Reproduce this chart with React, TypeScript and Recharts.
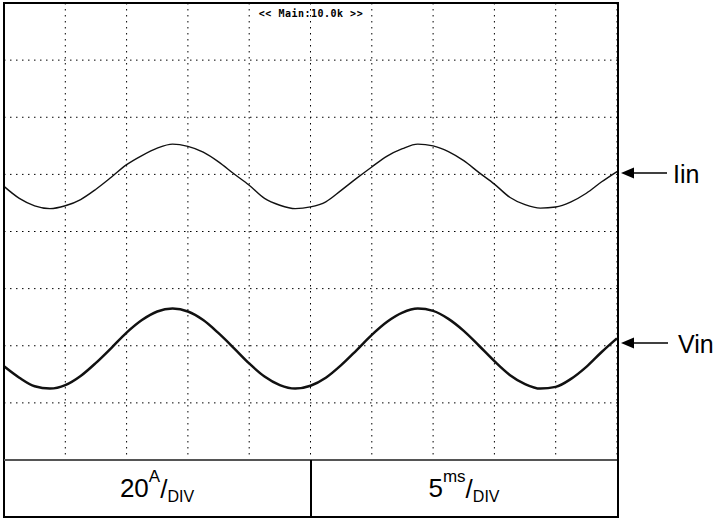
import { CartesianGrid, Line, LineChart, XAxis, YAxis } from 'recharts'

// scope trace, 5 ms/div horizontally, values in divisions (20 A/div)
const TIME_MS = [
  0, 1.25, 2.5, 3.75, 5, 6.25, 7.5, 8.75, 10, 11.25, 12.5, 13.75, 15, 16.25, 17.5, 18.75, 20,
  21.25, 22.5, 23.75, 25, 26.25, 27.5, 28.75, 30, 31.25, 32.5, 33.75, 35, 36.25, 37.5, 38.75,
  40, 41.25, 42.5, 43.75, 45, 46.25, 47.5, 48.75, 50,
]
const IIN = [
  4.79, 4.58, 4.45, 4.4, 4.45, 4.56, 4.74, 4.95, 5.17, 5.33, 5.46, 5.53, 5.49, 5.39, 5.22, 5.01,
  4.81, 4.58, 4.46, 4.4, 4.43, 4.52, 4.72, 4.93, 5.13, 5.32, 5.45, 5.53, 5.5, 5.4, 5.24, 5.03,
  4.83, 4.6, 4.47, 4.41, 4.43, 4.52, 4.67, 4.87, 5.05,
]
const VIN = [
  1.64, 1.44, 1.29, 1.25, 1.31, 1.47, 1.7, 1.96, 2.23, 2.45, 2.6, 2.65, 2.6, 2.45, 2.22, 1.96,
  1.69, 1.46, 1.31, 1.25, 1.3, 1.44, 1.66, 1.92, 2.19, 2.42, 2.58, 2.65, 2.61, 2.47, 2.26, 2.0,
  1.73, 1.49, 1.33, 1.25, 1.28, 1.42, 1.63, 1.89, 2.13,
]
const X_TICKS = [0, 5, 10, 15, 20, 25, 30, 35, 40, 45, 50]
const Y_TICKS = [0, 1, 2, 3, 4, 5, 6, 7, 8]

const INK = '#111'
const SANS = '"Liberation Sans", Arial, sans-serif'

const data = TIME_MS.map((t, i) => ({ t, iin: IIN[i], vin: VIN[i] }))

export default function App() {
  return (
    <div style={{ position: 'absolute', left: 0, top: 0, width: 715, height: 518, background: '#fff', overflow: 'hidden' }}>
      <LineChart width={715} height={518} data={data} margin={{ top: 3, right: 98, bottom: 58, left: 4 }}>
        <CartesianGrid stroke="#000" strokeDasharray="1.5 4.5" />
        <XAxis dataKey="t" type="number" domain={[0, 50]} ticks={X_TICKS} hide />
        <YAxis type="number" domain={[0, 8]} ticks={Y_TICKS} hide />
        <Line type="monotone" dataKey="iin" stroke={INK} strokeWidth={1.4} dot={false} isAnimationActive={false} />
        <Line type="monotone" dataKey="vin" stroke={INK} strokeWidth={2.5} dot={false} isAnimationActive={false} />
      </LineChart>

      {/* scope frame and readout box */}
      <div style={{ position: 'absolute', left: 3, top: 2, width: 616, height: 516, border: '2px solid #000', boxSizing: 'border-box' }} />
      <div style={{ position: 'absolute', left: 4, top: 459, width: 613, height: 2, background: '#555' }} />
      <div style={{ position: 'absolute', left: 310, top: 460, width: 2, height: 57, background: '#000' }} />

      <div
        style={{
          position: 'absolute', left: 211, top: 9, width: 200, textAlign: 'center',
          fontFamily: '"DejaVu Sans Mono", monospace', fontSize: 10, lineHeight: '10px',
          fontWeight: 700, letterSpacing: 0.5, color: '#000', whiteSpace: 'pre',
        }}
      >
        {'<< Main:10.0k >>'}
      </div>

      <Scale left={4} value="20" unit="A" />
      <Scale left={311} value="5" unit="ms" />

      <svg width={715} height={518} style={{ position: 'absolute', left: 0, top: 0 }}>
        <polygon points="621,173 634,167.5 634,178.5" fill="#000" />
        <line x1={633} y1={173} x2={667} y2={173} stroke="#000" strokeWidth={1.5} />
        <polygon points="621,343 634,337.5 634,348.5" fill="#000" />
        <line x1={633} y1={343} x2={668} y2={343} stroke="#000" strokeWidth={1.5} />
      </svg>
      <div style={{ position: 'absolute', left: 673, top: 162, fontFamily: SANS, fontSize: 25, lineHeight: '25px', color: '#000' }}>Iin</div>
      <div style={{ position: 'absolute', left: 678, top: 332, fontFamily: SANS, fontSize: 25, lineHeight: '25px', color: '#000' }}>Vin</div>
    </div>
  )
}

function Scale({ left, value, unit }: { left: number; value: string; unit: string }) {
  return (
    <div
      style={{
        position: 'absolute', left, top: 475, width: 306, textAlign: 'center',
        fontFamily: SANS, fontSize: 26, lineHeight: '26px', color: '#000', whiteSpace: 'nowrap',
      }}
    >
      {value}
      <span style={{ position: 'relative', top: -15, fontSize: 17 }}>{unit}</span>
      <span style={{ position: 'relative', top: 1 }}>/</span>
      <span style={{ position: 'relative', top: 5, fontSize: 16 }}>DIV</span>
    </div>
  )
}
